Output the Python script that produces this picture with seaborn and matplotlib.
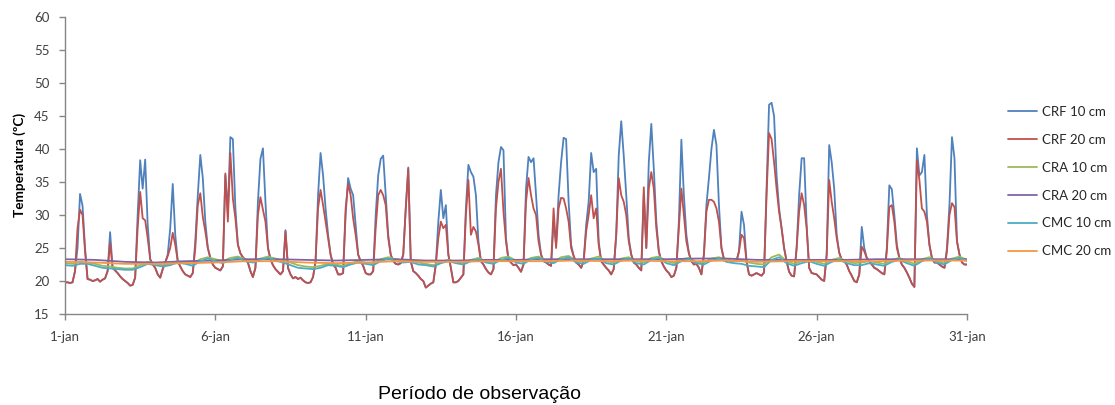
import numpy as np
import pandas as pd
import matplotlib
matplotlib.use("Agg")
import matplotlib.pyplot as plt
import seaborn as sns

# ---------------- data ----------------
series_names = ["CRF 10 cm", "CRF 20 cm", "CRA 10 cm", "CRA 20 cm", "CMC 10 cm", "CMC 20 cm"]
series_colors = ["#4F81BD", "#C0504D", "#9BBB59", "#8064A2", "#4BACC6", "#F79646"]

x_tick_days = [1, 6, 11, 16, 21, 26, 31]
x_tick_labels = ["1-jan", "6-jan", "11-jan", "16-jan", "21-jan", "26-jan", "31-jan"]
y_ticks = [15, 20, 25, 30, 35, 40, 45, 50, 55, 60]

# CRF readings every 2 h (00h, 02h, ... 22h) from 1-jan, last value = 31-jan 00h
crf_step_hours = 2
crf10 = [
    19.8, 19.8, 19.7, 19.8, 21.5, 25.0, 33.2, 31.4, 25.0, 20.3, 20.2, 20.0,  # 1
    20.1, 20.3, 19.9, 20.2, 20.4, 21.5, 27.4, 22.0, 21.6, 21.2, 20.7, 20.3,  # 2
    20.0, 19.7, 19.3, 19.4, 20.5, 30.0, 38.3, 34.0, 38.4, 28.5, 23.3, 22.5,  # 3
    22.0, 21.0, 20.5, 21.8, 22.8, 24.0, 28.0, 34.7, 27.0, 23.0, 22.2, 21.5,  # 4
    21.0, 20.8, 20.6, 21.2, 26.0, 33.0, 39.1, 35.6, 29.0, 25.0, 23.5, 22.5,  # 5
    22.0, 21.8, 21.6, 22.2, 36.0, 30.5, 41.8, 41.5, 31.0, 25.5, 24.2, 23.6,  # 6
    23.2, 22.8, 21.5, 20.6, 22.0, 32.0, 38.5, 40.1, 32.0, 25.0, 23.3, 22.4,  # 7
    21.8, 21.4, 21.0, 21.5, 27.7, 22.0, 21.0, 20.4, 20.6, 20.3, 20.5, 20.1,  # 8
    19.8, 19.7, 19.8, 20.6, 23.0, 33.0, 39.4, 36.0, 31.0, 27.0, 24.0, 22.5,  # 9
    22.0, 21.0, 21.0, 21.2, 30.0, 35.6, 34.0, 33.0, 28.5, 24.0, 23.0, 22.3,  # 10
    21.2, 21.0, 21.0, 21.5, 30.0, 36.0, 38.5, 39.0, 33.0, 27.0, 24.0, 23.0,  # 11
    22.6, 22.5, 22.7, 24.0, 31.0, 37.2, 23.0, 21.5, 21.2, 20.8, 20.3, 20.0,  # 12
    19.0, 19.3, 19.6, 19.8, 22.5, 29.0, 33.8, 29.5, 31.5, 24.0, 22.0, 19.8,  # 13
    19.8, 20.0, 20.5, 21.0, 31.0, 37.6, 36.5, 35.8, 33.0, 26.0, 23.0, 22.5,  # 14
    21.8, 21.3, 21.0, 21.8, 33.0, 38.0, 40.3, 39.8, 26.5, 23.2, 22.8, 22.4,  # 15
    22.5, 22.0, 21.4, 22.5, 34.0, 38.8, 38.0, 38.6, 33.0, 27.0, 24.0, 23.0,  # 16
    22.8, 22.5, 22.3, 29.0, 25.5, 33.0, 38.0, 41.7, 41.5, 32.0, 25.5, 23.8,  # 17
    22.8, 22.5, 22.0, 23.0, 28.5, 32.0, 39.4, 36.5, 37.0, 26.0, 23.0, 22.5,  # 18
    22.0, 21.6, 21.0, 21.8, 27.0, 39.0, 44.2, 39.0, 33.0, 26.5, 24.0, 22.8,  # 19
    22.5, 22.0, 21.6, 33.0, 25.0, 38.0, 43.8, 37.0, 29.0, 24.5, 23.0, 22.2,  # 20
    21.6, 21.2, 20.6, 20.8, 22.0, 29.0, 41.4, 33.0, 27.0, 24.2, 23.0, 22.5,  # 21
    22.6, 22.0, 21.0, 24.0, 31.5, 35.6, 40.0, 42.9, 40.6, 31.5, 25.0, 23.3,  # 22
    23.0, 23.2, 23.0, 23.1, 23.0, 24.5, 30.5, 28.5, 23.0, 21.0, 20.8, 21.0,  # 23
    21.2, 21.0, 20.8, 21.3, 34.0, 46.7, 47.0, 45.0, 36.0, 31.0, 28.0, 25.0,  # 24
    23.0, 21.4, 20.8, 20.7, 25.0, 33.0, 38.6, 38.6, 28.5, 22.0, 21.2, 21.1,  # 25
    21.0, 20.6, 20.2, 20.0, 24.0, 40.6, 38.0, 34.0, 27.0, 24.3, 23.2, 23.0,  # 26
    22.5, 21.5, 20.8, 20.0, 19.8, 21.0, 28.2, 25.0, 23.5, 23.0, 22.5, 22.0,  # 27
    21.8, 21.5, 21.2, 21.0, 25.0, 34.5, 33.9, 30.0, 25.5, 23.5, 22.5, 22.0,  # 28
    21.3, 20.5, 19.6, 19.1, 40.1, 36.0, 36.5, 39.1, 30.0, 25.5, 23.5, 22.8,  # 29
    22.8, 22.5, 22.2, 22.0, 25.0, 31.5, 41.8, 38.6, 26.0, 24.0, 22.8, 22.5,  # 30
    22.5,
]
crf20 = [
    19.8, 19.8, 19.7, 19.8, 21.5, 28.0, 30.8, 30.0, 24.5, 20.3, 20.2, 20.0,  # 1
    20.1, 20.3, 19.9, 20.2, 20.4, 21.5, 25.8, 22.0, 21.6, 21.2, 20.7, 20.3,  # 2
    20.0, 19.7, 19.3, 19.4, 20.5, 28.0, 33.5, 29.5, 29.2, 26.5, 23.3, 22.5,  # 3
    22.0, 21.0, 20.5, 21.8, 22.8, 23.8, 25.0, 27.3, 25.5, 23.0, 22.2, 21.5,  # 4
    21.0, 20.8, 20.6, 21.2, 25.0, 31.5, 33.3, 29.7, 27.5, 25.0, 23.5, 22.5,  # 5
    22.0, 21.8, 21.6, 22.2, 36.3, 29.0, 39.4, 32.5, 29.5, 25.5, 24.2, 23.6,  # 6
    23.2, 22.8, 21.5, 20.6, 22.0, 30.0, 32.7, 30.8, 29.0, 25.0, 23.3, 22.4,  # 7
    21.8, 21.4, 21.0, 21.5, 27.5, 22.0, 21.0, 20.4, 20.6, 20.3, 20.5, 20.1,  # 8
    19.8, 19.7, 19.8, 20.6, 23.0, 31.0, 33.8, 31.5, 29.0, 26.5, 24.0, 22.5,  # 9
    22.0, 21.0, 21.0, 21.2, 31.0, 34.7, 33.0, 29.5, 27.0, 24.0, 23.0, 22.3,  # 10
    21.2, 21.0, 21.0, 21.5, 28.0, 33.0, 33.8, 33.0, 31.5, 26.5, 24.0, 23.0,  # 11
    22.6, 22.5, 22.7, 24.0, 31.0, 37.0, 23.0, 21.5, 21.2, 20.8, 20.3, 20.0,  # 12
    19.0, 19.3, 19.6, 19.8, 22.5, 26.5, 29.0, 28.0, 28.5, 24.0, 22.0, 19.8,  # 13
    19.8, 20.0, 20.5, 21.0, 30.0, 35.3, 27.0, 28.2, 27.5, 25.5, 23.0, 22.5,  # 14
    21.8, 21.3, 21.0, 21.8, 31.0, 35.0, 37.0, 30.5, 26.0, 23.2, 22.8, 22.4,  # 15
    22.5, 22.0, 21.4, 22.5, 32.0, 35.6, 33.0, 31.0, 30.0, 26.0, 24.0, 23.0,  # 16
    22.8, 22.5, 22.3, 31.0, 25.0, 31.0, 32.6, 32.5, 31.0, 29.0, 25.0, 23.8,  # 17
    22.8, 22.5, 22.0, 23.0, 27.5, 30.0, 33.0, 29.5, 31.0, 25.5, 23.0, 22.5,  # 18
    22.0, 21.6, 21.0, 21.8, 27.0, 35.6, 33.0, 32.0, 30.0, 26.0, 24.0, 22.8,  # 19
    22.5, 22.0, 21.6, 34.2, 25.0, 34.0, 36.5, 34.0, 28.0, 24.5, 23.0, 22.2,  # 20
    21.6, 21.2, 20.6, 20.8, 22.0, 28.0, 34.0, 30.0, 26.0, 24.2, 23.0, 22.5,  # 21
    22.6, 22.0, 21.0, 24.0, 30.5, 32.3, 32.3, 32.0, 31.0, 29.0, 25.0, 23.3,  # 22
    23.0, 23.2, 23.0, 23.1, 23.0, 24.5, 27.0, 26.5, 23.0, 21.0, 20.8, 21.0,  # 23
    21.2, 21.0, 20.8, 21.3, 33.0, 42.4, 41.5, 38.0, 34.0, 30.5, 28.0, 25.0,  # 24
    23.0, 21.4, 20.8, 20.7, 25.0, 30.5, 33.3, 31.5, 28.0, 22.0, 21.2, 21.1,  # 25
    21.0, 20.6, 20.2, 20.0, 24.0, 35.3, 32.0, 29.5, 26.5, 24.3, 23.2, 23.0,  # 26
    22.5, 21.5, 20.8, 20.0, 19.8, 21.0, 25.2, 24.5, 23.5, 23.0, 22.5, 22.0,  # 27
    21.8, 21.5, 21.2, 21.0, 24.5, 31.2, 31.5, 29.0, 25.0, 23.5, 22.5, 22.0,  # 28
    21.3, 20.5, 19.6, 19.1, 38.3, 35.3, 31.0, 30.5, 29.0, 25.5, 23.5, 22.8,  # 29
    22.8, 22.5, 22.2, 22.0, 24.5, 30.0, 31.8, 31.2, 26.0, 24.0, 22.8, 22.5,  # 30
    22.5,
]

# 10 cm CRA / CMC readings every 6 h (00h, 06h, 12h, 18h)
cr10_step_hours = 6
cra10 = [
    22.7, 22.6, 22.9, 22.8,  22.6, 22.3, 22.2, 22.0,  21.9, 21.9, 22.4, 22.9,
    22.7, 22.4, 22.6, 23.0,  22.8, 22.6, 23.3, 23.6,  23.3, 23.0, 23.5, 23.7,
    23.3, 23.0, 23.4, 23.7,  23.4, 23.1, 22.8, 22.4,  22.2, 22.1, 22.3, 22.6,
    22.5, 22.3, 22.7, 23.0,  22.8, 22.7, 23.3, 23.6,  23.3, 23.1, 23.2, 22.8,
    22.6, 22.4, 22.9, 23.2,  22.9, 22.7, 23.2, 23.5,  23.0, 22.8, 23.5, 23.7,
    23.1, 22.9, 23.5, 23.7,  23.1, 22.9, 23.6, 23.8,  23.1, 22.9, 23.4, 23.7,
    23.0, 22.8, 23.4, 23.6,  23.0, 22.8, 23.5, 23.7,  23.0, 22.7, 23.3, 23.5,
    22.9, 22.8, 23.4, 23.6,  23.2, 23.0, 23.1, 22.8,  22.6, 22.5, 23.6, 24.0,
    23.0, 22.6, 23.0, 23.3,  22.9, 22.6, 23.2, 23.5,  23.0, 22.7, 22.8, 23.0,
    22.8, 22.6, 23.2, 23.5,  23.0, 22.6, 23.3, 23.6,  23.0, 22.8, 23.4, 23.7,
    23.2,
]
cmc10 = [
    22.4, 22.3, 22.6, 22.6,  22.3, 22.0, 21.9, 21.8,  21.7, 21.7, 22.1, 22.6,
    22.4, 22.2, 22.4, 22.8,  22.6, 22.3, 23.0, 23.4,  23.0, 22.7, 23.2, 23.5,
    23.0, 22.8, 23.2, 23.5,  23.1, 22.8, 22.4, 22.0,  21.9, 21.8, 22.0, 22.4,
    22.3, 22.1, 22.5, 22.8,  22.6, 22.4, 23.0, 23.4,  23.0, 22.8, 22.9, 22.5,
    22.4, 22.2, 22.7, 23.0,  22.7, 22.5, 23.0, 23.3,  22.8, 22.6, 23.2, 23.5,
    22.8, 22.6, 23.3, 23.5,  22.9, 22.7, 23.3, 23.6,  22.8, 22.6, 23.2, 23.4,
    22.7, 22.5, 23.1, 23.4,  22.7, 22.5, 23.2, 23.5,  22.7, 22.4, 23.0, 23.3,
    22.7, 22.5, 23.1, 23.4,  22.9, 22.7, 22.6, 22.3,  22.2, 22.1, 23.2, 23.6,
    22.7, 22.3, 22.7, 23.0,  22.6, 22.3, 22.9, 23.2,  22.7, 22.4, 22.4, 22.7,
    22.5, 22.3, 22.9, 23.2,  22.7, 22.3, 23.0, 23.4,  22.8, 22.5, 23.2, 23.5,
    23.0,
]

# 20 cm CRA / CMC daily readings (00h)
cr20_step_hours = 24
cra20 = [23.3, 23.2, 22.9, 22.8, 23.0, 23.1, 23.3, 23.3, 23.2, 23.1, 23.2,
         23.3, 23.1, 23.1, 23.2, 23.2, 23.3, 23.3, 23.3, 23.3, 23.3, 23.4,
         23.4, 23.2, 23.2, 23.2, 23.2, 23.3, 23.3, 23.3, 23.3]
cmc20 = [22.9, 22.8, 22.6, 22.6, 22.7, 22.8, 23.0, 23.0, 22.8, 22.7, 22.8,
         23.0, 22.9, 22.9, 23.0, 23.0, 23.0, 23.1, 23.0, 23.1, 23.0, 23.0,
         23.1, 22.9, 23.0, 23.0, 23.0, 23.0, 23.1, 23.1, 23.1]

x_label = "Período de observação"
y_label = "Temperatura (ºC)"

# ---------------- long-form table ----------------
def frame(name, values, step_hours):
    days = 1 + np.arange(len(values)) * step_hours / 24.0
    return pd.DataFrame({"dia": days, "temp": values, "serie": name})

df = pd.concat([
    frame(series_names[0], crf10, crf_step_hours),
    frame(series_names[1], crf20, crf_step_hours),
    frame(series_names[2], cra10, cr10_step_hours),
    frame(series_names[3], cra20, cr20_step_hours),
    frame(series_names[4], cmc10, cr10_step_hours),
    frame(series_names[5], cmc20, cr20_step_hours),
], ignore_index=True)

# ---------------- plot ----------------
sns.set_theme(style="ticks")
plt.rcParams["font.family"] = ["Lato", "DejaVu Sans"]

W, H = 1115, 405
fig = plt.figure(figsize=(W / 100, H / 100), dpi=100)
L, R, T, B = 65, 967, 17, 314
ax = fig.add_axes([L / W, 1 - B / H, (R - L) / W, (B - T) / H])

sns.lineplot(data=df, x="dia", y="temp", hue="serie", hue_order=series_names,
             palette=series_colors, linewidth=1.3, estimator=None, sort=False,
             ax=ax)

ax.set_xlim(1, 31)
ax.set_ylim(15, 60)
ax.set_xticks(x_tick_days)
ax.set_xticklabels(x_tick_labels)
ax.set_yticks(y_ticks)

grey = "#868686"
for side in ["top", "right"]:
    ax.spines[side].set_visible(False)
for side in ["left", "bottom"]:
    ax.spines[side].set_color(grey)
    ax.spines[side].set_linewidth(1.0)
ax.tick_params(axis="both", colors=grey, labelcolor="#404040", labelsize=9.5,
               length=4, width=1.0)
ax.tick_params(axis="x", pad=8.5)
ax.tick_params(axis="y", pad=7)

ax.set_xlabel(x_label, fontsize=14, family=["Liberation Sans", "DejaVu Sans"],
              color="black")
ax.xaxis.set_label_coords((479 - L) / (R - L), (B - 386) / (B - T))
ax.xaxis.label.set_va("top")
ax.set_ylabel(y_label, fontsize=9.8, fontweight="bold", color="black")
ax.yaxis.set_label_coords((26 - L) / (R - L), (B - 165) / (B - T))

sns.move_legend(ax, "upper left", bbox_to_anchor=(1008 / W, 1 - 106 / H),
                bbox_transform=fig.transFigure, frameon=False, title=None,
                fontsize=9.5, handlelength=2.2, handletextpad=0.35,
                labelspacing=1.2, borderpad=0, borderaxespad=0)

fig.savefig("out.png", dpi=100)
